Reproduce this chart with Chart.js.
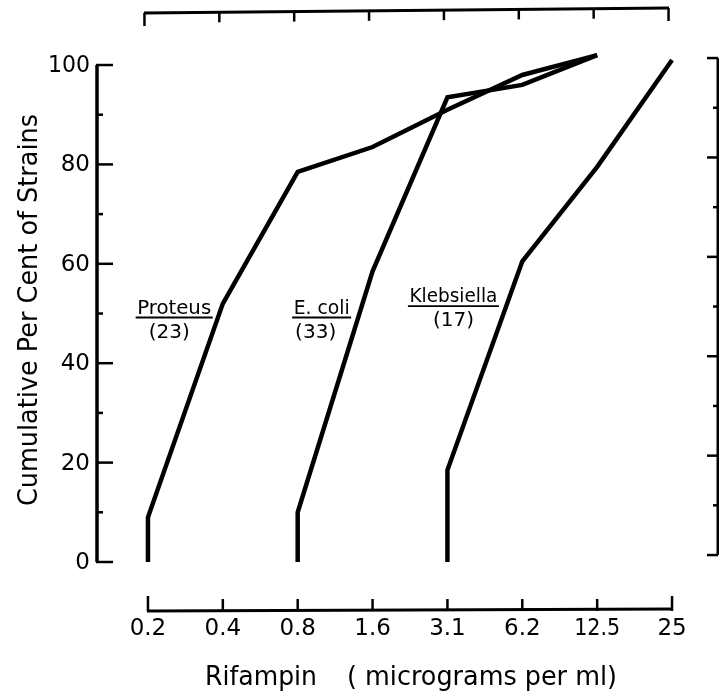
<!DOCTYPE html>
<html><head><meta charset="utf-8">
<script src="https://cdn.jsdelivr.net/npm/chart.js@4/dist/chart.umd.min.js"></script>
<style>html,body{margin:0;padding:0;background:#fff;}#wrap{width:719px;height:698px;}</style>
</head><body><div id="wrap"><canvas id="c" width="719" height="698"></canvas></div>
<script>
const categories = ['0.2','0.4','0.8','1.6','3.1','6.2','12.5','25'];
const yTicks = [0,20,40,60,80,100];
const proteusX = ['0.2','0.2','0.4','0.8','1.6','3.1','6.2','12.5'];
const proteusY = [0,9,52,78.5,83.5,91,98,102];
const ecoliX = ['0.8','0.8','1.6','3.1','6.2','12.5'];
const ecoliY = [0,10,58.5,93.5,96,102];
const klebX = ['3.1','3.1','6.2','12.5','25'];
const klebY = [0,18.5,60.5,79.5,101];
const seriesLabels = [['Proteus','(23)'],['E. coli','(33)'],['Klebsiella','(17)']];

const FONT = '"DejaVu Sans", sans-serif';
function pts(xs, ys){ return xs.map((c,i)=>({x:categories.indexOf(c), y:ys[i]})); }
const lineStyle = {borderColor:'#000', borderWidth:4.5, pointRadius:0, fill:false, tension:0, borderJoinStyle:'miter', borderCapStyle:'butt'};

const axesPlugin = {
  id:'axesPlugin',
  afterDraw(chart){
    const ctx = chart.ctx, xs = chart.scales.x, ys = chart.scales.y, a = chart.chartArea;
    ctx.save();
    ctx.strokeStyle='#000'; ctx.fillStyle='#000'; ctx.lineCap='butt';
    // left y axis
    ctx.lineWidth=3.5;
    ctx.beginPath(); ctx.moveTo(a.left+1, ys.getPixelForValue(0)); ctx.lineTo(a.left+1, ys.getPixelForValue(100)); ctx.stroke();
    ctx.lineWidth=2.5;
    for(let v=0; v<=100; v+=10){
      const y=ys.getPixelForValue(v), len = v%20===0?17:7;
      ctx.beginPath(); ctx.moveTo(a.left, y); ctx.lineTo(a.left+len, y); ctx.stroke();
    }
    ctx.font='23px '+FONT; ctx.textAlign='right'; ctx.textBaseline='middle';
    yTicks.forEach(v=>ctx.fillText(String(v), a.left-6, ys.getPixelForValue(v)+1, v===100?42:40));
    // bottom x axis
    const x0 = xs.getPixelForValue(0), x7 = xs.getPixelForValue(categories.length-1);
    ctx.lineWidth=3;
    ctx.beginPath(); ctx.moveTo(x0-1, a.bottom); ctx.lineTo(x7+1, a.bottom-2); ctx.stroke();
    ctx.lineWidth=2.5;
    categories.forEach((c,i)=>{
      const x=xs.getPixelForValue(i), len=(i===0||i===categories.length-1)?15:12;
      ctx.beginPath(); ctx.moveTo(x, a.bottom); ctx.lineTo(x, a.bottom-len); ctx.stroke();
    });
    ctx.textAlign='center'; ctx.textBaseline='middle';
    categories.forEach((c,i)=>ctx.fillText(c, xs.getPixelForValue(i), a.bottom+18, 46));
    // top axis
    ctx.lineWidth=3;
    ctx.beginPath(); ctx.moveTo(x0-4, a.top+3); ctx.lineTo(x7-3, a.top-2); ctx.stroke();
    ctx.lineWidth=2.5;
    categories.forEach((c,i)=>{
      const x=xs.getPixelForValue(i)-3.5, len=(i===0||i===categories.length-1)?13:10;
      const yb = a.top+3-5*i/7;
      ctx.beginPath(); ctx.moveTo(x, yb); ctx.lineTo(x, yb+len); ctx.stroke();
    });
    // right axis (partial panel)
    ctx.lineWidth=3;
    ctx.beginPath(); ctx.moveTo(a.right, ys.getPixelForValue(1.4)); ctx.lineTo(a.right, ys.getPixelForValue(101.4)); ctx.stroke();
    ctx.lineWidth=2.5;
    for(let k=0;k<=10;k++){
      const y=ys.getPixelForValue(1.4+10*k), len = k%2===0?11:5;
      ctx.beginPath(); ctx.moveTo(a.right, y); ctx.lineTo(a.right-len, y); ctx.stroke();
    }
    // axis titles
    ctx.font='26px '+FONT; ctx.textAlign='left'; ctx.textBaseline='alphabetic';
    ctx.fillText('Rifampin', 205, 685, 112);
    ctx.fillText('( micrograms per ml)', 347, 685, 270);
    ctx.save();
    ctx.translate(37, 310); ctx.rotate(-Math.PI/2);
    ctx.textAlign='center';
    ctx.font='27px '+FONT;
    ctx.fillText('Cumulative Per Cent of Strains', 0, 0, 392);
    ctx.restore();
    // series labels
    const lab = [
      {cx:0.35, top:50, w:77, dx:-5},
      {cx:2.32, top:50, w:59, dx:-6},
      {cx:4.08, top:52.3, w:91, dx:0}
    ];
    ctx.font='20px '+FONT; ctx.textAlign='center';
    lab.forEach((L,i)=>{
      const cx = xs.getPixelForValue(L.cx), yb = ys.getPixelForValue(L.top);
      ctx.fillText(seriesLabels[i][0], cx, yb, L.w-3);
      ctx.lineWidth=1.8;
      ctx.beginPath(); ctx.moveTo(cx-L.w/2, yb+4); ctx.lineTo(cx+L.w/2, yb+4); ctx.stroke();
      ctx.fillText(seriesLabels[i][1], cx+L.dx, yb+24);
    });
    ctx.restore();
  }
};

new Chart(document.getElementById('c'), {
  type:'line',
  data:{datasets:[
    Object.assign({label:'Proteus', data:pts(proteusX, proteusY)}, lineStyle),
    Object.assign({label:'E. coli', data:pts(ecoliX, ecoliY)}, lineStyle),
    Object.assign({label:'Klebsiella', data:pts(klebX, klebY)}, lineStyle)
  ]},
  options:{
    responsive:false, animation:false, devicePixelRatio:1,
    layout:{padding:{left:96, top:10, right:1, bottom:87}},
    plugins:{legend:{display:false}, tooltip:{enabled:false}},
    scales:{
      x:{type:'linear', display:false, min:-0.694, max:7.614},
      y:{type:'linear', display:false, min:-9.86, max:111.07}
    }
  },
  plugins:[axesPlugin]
});
</script></body></html>
